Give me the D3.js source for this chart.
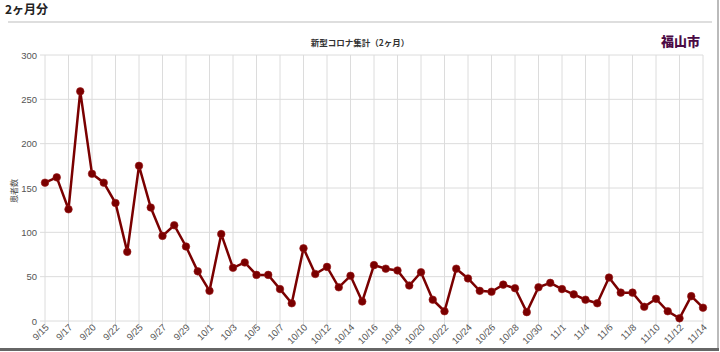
<!DOCTYPE html>
<html>
<head>
<meta charset="utf-8">
<script src="https://cdn.jsdelivr.net/npm/d3@7"></script>
<style>
  body { margin: 0; background: #fff; }
  svg { display: block; }
</style>
</head>
<body>
<div id="wrapper"></div>
<script>
const LINE_COLOR = "#7a0000";
const GRID_COLOR = "#dcdcdc";
const TEXT_COLOR = "#555";

// dates shown on the x axis (every other one gets a label)
const dates = [
  "9/15", "9/16", "9/17", "9/19", "9/20", "9/21", "9/22", "9/24", "9/25", "9/26",
  "9/27", "9/28", "9/29", "9/30", "10/1", "10/2", "10/3", "10/4", "10/5", "10/6",
  "10/7", "10/9", "10/10", "10/11", "10/12", "10/13", "10/14", "10/15", "10/16", "10/17",
  "10/18", "10/19", "10/20", "10/21", "10/22", "10/23", "10/24", "10/25", "10/26", "10/27",
  "10/28", "10/29", "10/30", "10/31", "11/1", "11/2", "11/4", "11/5", "11/6", "11/7",
  "11/8", "11/9", "11/10", "11/11", "11/12", "11/13", "11/14"
];
const patients = [
  156, 162, 126, 259, 166, 156, 133, 78, 175, 128,
  96, 108, 84, 56, 34, 98, 60, 66, 52, 52,
  36, 20, 82, 53, 61, 38, 51, 22, 63, 59,
  57, 40, 55, 24, 11, 59, 48, 34, 33, 41,
  37, 10, 38, 43, 36, 30, 24, 20, 49, 32,
  32, 16, 25, 11, 3, 28, 15
];
const yTicks = [0, 50, 100, 150, 200, 250, 300];

const data = dates.map((d, i) => ({ date: d, value: patients[i] }));

const width = 720;
const height = 352;
const dimensions = {
  width: width,
  height: height,
  margin: { top: 55, right: 17, bottom: 31, left: 45 }
};
dimensions.boundedWidth = dimensions.width - dimensions.margin.left - dimensions.margin.right;
dimensions.boundedHeight = dimensions.height - dimensions.margin.top - dimensions.margin.bottom;

const wrapper = d3.select("#wrapper")
  .append("svg")
  .attr("width", dimensions.width)
  .attr("height", dimensions.height);

// page frame bits
wrapper.append("text")
  .attr("x", 5).attr("y", 14)
  .text("2ヶ月分")
  .style("font-family", "'Noto Sans CJK JP', sans-serif")
  .style("font-size", "12px")
  .style("font-weight", "bold")
  .attr("fill", "#222");

wrapper.append("line")
  .attr("x1", 8).attr("x2", 712)
  .attr("y1", 22).attr("y2", 22)
  .attr("stroke", "#dedede").attr("stroke-width", 2);

wrapper.append("line")
  .attr("x1", 718).attr("x2", 718)
  .attr("y1", 0).attr("y2", 350)
  .attr("stroke", "#bbb").attr("stroke-width", 2);

wrapper.append("line")
  .attr("x1", 0).attr("x2", 719)
  .attr("y1", 349.5).attr("y2", 349.5)
  .attr("stroke", "#666").attr("stroke-width", 3);

wrapper.append("text")
  .attr("x", 360).attr("y", 46)
  .attr("text-anchor", "middle")
  .text("新型コロナ集計（2ヶ月）")
  .style("font-family", "'Noto Sans CJK JP', sans-serif")
  .style("font-size", "8.5px")
  .style("font-weight", "bold")
  .attr("fill", "#333");

wrapper.append("text")
  .attr("x", 700).attr("y", 46)
  .attr("text-anchor", "end")
  .text("福山市")
  .style("font-family", "'Noto Sans CJK JP', sans-serif")
  .style("font-size", "13px")
  .style("font-weight", "900")
  .attr("fill", "#4b0a45");

const bounds = wrapper.append("g")
  .attr("transform", `translate(${dimensions.margin.left},${dimensions.margin.top})`);

const xScale = d3.scalePoint()
  .domain(dates)
  .range([0, dimensions.boundedWidth]);

const yScale = d3.scaleLinear()
  .domain([0, 300])
  .range([dimensions.boundedHeight, 0]);

const labeled = dates.filter((d, i) => i % 2 === 0);

// grid
bounds.append("g")
  .selectAll("line")
  .data(yTicks)
  .enter().append("line")
  .attr("x1", -5).attr("x2", dimensions.boundedWidth)
  .attr("y1", d => yScale(d)).attr("y2", d => yScale(d))
  .attr("stroke", GRID_COLOR);

bounds.append("g")
  .selectAll("line")
  .data(labeled)
  .enter().append("line")
  .attr("x1", d => xScale(d)).attr("x2", d => xScale(d))
  .attr("y1", 0).attr("y2", dimensions.boundedHeight + 5)
  .attr("stroke", GRID_COLOR);

// y axis
const yAxis = bounds.append("g")
  .call(d3.axisLeft(yScale).tickValues(yTicks).tickSize(0).tickPadding(8));
yAxis.select(".domain").remove();
yAxis.selectAll("text")
  .attr("fill", TEXT_COLOR)
  .style("font-family", "Arial, 'Liberation Sans', sans-serif")
  .style("font-size", "9.5px");

bounds.append("text")
  .attr("transform", `translate(${-28},${dimensions.boundedHeight / 2 + 3}) rotate(-90)`)
  .attr("text-anchor", "middle")
  .text("患者数")
  .style("font-family", "'Noto Sans CJK JP', sans-serif")
  .style("font-size", "8px")
  .attr("fill", "#444");

// x axis
const xAxis = bounds.append("g")
  .attr("transform", `translate(0,${dimensions.boundedHeight})`)
  .call(d3.axisBottom(xScale).tickValues(labeled).tickSize(0).tickPadding(0));
xAxis.select(".domain").remove();
xAxis.selectAll("text")
  .attr("text-anchor", "end")
  .attr("dy", 0)
  .attr("transform", "translate(4,7) rotate(-45)")
  .attr("fill", TEXT_COLOR)
  .style("font-family", "Arial, 'Liberation Sans', sans-serif")
  .style("font-size", "9.5px");

// line + points
const lineGenerator = d3.line()
  .x(d => xScale(d.date))
  .y(d => yScale(d.value));

bounds.append("path")
  .datum(data)
  .attr("d", lineGenerator)
  .attr("fill", "none")
  .attr("stroke", LINE_COLOR)
  .attr("stroke-width", 2.5)
  .attr("stroke-linejoin", "miter");

bounds.append("g")
  .selectAll("circle")
  .data(data)
  .enter().append("circle")
  .attr("cx", d => xScale(d.date))
  .attr("cy", d => yScale(d.value))
  .attr("r", 3.8)
  .attr("fill", LINE_COLOR)
  .attr("stroke", "#9a1a1a")
  .attr("stroke-width", 0.6);
</script>
</body>
</html>
